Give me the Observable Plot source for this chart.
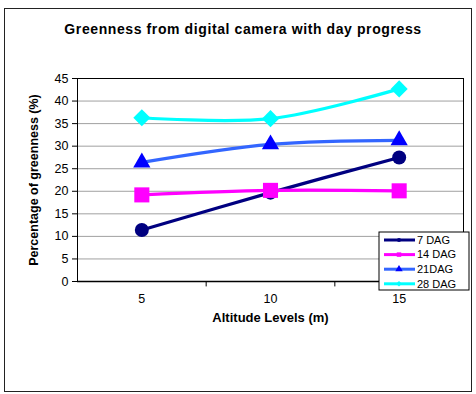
<!DOCTYPE html>
<html>
<head>
<meta charset="utf-8">
<script src="https://cdn.jsdelivr.net/npm/d3@7"></script>
<script src="https://cdn.jsdelivr.net/npm/@observablehq/plot@0.6"></script>
<style>
  body { margin: 0; background: #fff; font-family: "Liberation Sans", Arial, sans-serif; }
  #frame { position: absolute; left: 4px; top: 8px; width: 468px; height: 384px; border: 1.5px solid #222; box-sizing: border-box; }
  #title { position: absolute; left: 5px; top: 21px; width: 476px; text-align: center; font-weight: bold; font-size: 14px; letter-spacing: 0.6px; color: #000; }
  #chart { position: absolute; left: 0; top: 50px; }
</style>
</head>
<body>
<div id="frame"></div>
<div id="title">Greenness from digital camera with day progress</div>
<div id="chart"></div>
<script>
// Altitude levels (m) on the x axis
const altitudes = [5, 10, 15];
// Percentage of greenness for each day-after-germination series
const seriesNames = ["7 DAG", "14 DAG", "21DAG", "28 DAG"];
const dag7 = [11.4, 19.7, 27.5];
const dag14 = [19.2, 20.2, 20.1];
const dag21 = [26.4, 30.4, 31.3];
const dag28 = [36.3, 36.1, 42.7];
const yTicks = [0, 5, 10, 15, 20, 25, 30, 35, 40, 45];

const seriesValues = [dag7, dag14, dag21, dag28];
const lineColors = ["#000080", "#ff00ff", "#3366ff", "#00ffff"];
const markerColors = ["#000080", "#ff00ff", "#0000ff", "#00ffff"];
const symbols = ["circle", "square", "triangle", "diamond2"];
const markerR = [7, 8.5, 6.4, 7.7];

const rows = seriesNames.map((name, i) =>
  altitudes.map((a, j) => ({series: name, altitude: a, value: seriesValues[i][j]}))
);

const marks = [
  Plot.ruleY(yTicks.slice(1, -1), {stroke: "#a0a0a0", strokeWidth: 1}),
  // tick marks on the category axis, between altitude levels
  Plot.ruleX([7.5, 12.5], {y1: 0, y2: -1.2, stroke: "#000"}),
  ...rows.map((d, i) => Plot.line(d, {x: "altitude", y: "value", stroke: lineColors[i], strokeWidth: 3.2, curve: "catmull-rom"})),
  ...rows.map((d, i) => Plot.dot(d, {x: "altitude", y: "value", symbol: symbols[i], r: markerR[i], fill: markerColors[i], stroke: "none"})),
  Plot.frame({stroke: "#000"}),
  Plot.ruleY([0], {stroke: "#000", strokeWidth: 1.5}),
  Plot.text(["Percentage of greenness (%)"], {text: d => d, frameAnchor: "left", textAnchor: "middle", dx: -44, rotate: -90, fontWeight: "bold", fontSize: 12.5}),
  Plot.text(["Altitude Levels (m)"], {text: d => d, frameAnchor: "bottom", textAnchor: "middle", dy: 40, fontWeight: "bold", fontSize: 13, style: "letter-spacing: 0.6px"})
];

const svg = Plot.plot({
  width: 476,
  height: 300,
  marginLeft: 77,
  marginRight: 13,
  marginTop: 28,
  marginBottom: 69,
  style: {fontSize: "12.5px", fontFamily: "'Liberation Sans', Arial, sans-serif", color: "#000", background: "transparent", overflow: "visible"},
  x: {domain: [2.5, 17.5], ticks: altitudes, tickSize: 0, tickPadding: 13, label: null},
  y: {domain: [0, 45], ticks: yTicks, tickSize: 5, tickPadding: 4, label: null},
  marks
});
document.getElementById("chart").appendChild(svg);

// Legend box straddling the lower right corner of the plot area
const lg = d3.select(svg).append("g")
  .attr("font-size", 11)
  .attr("font-family", "'Liberation Sans', Arial, sans-serif")
  .attr("text-anchor", "start");
const lx = 379, ly = 182, lw = 90, lh = 58;
lg.append("rect").attr("x", lx).attr("y", ly).attr("width", lw).attr("height", lh)
  .attr("fill", "#fff").attr("stroke", "#000").attr("stroke-width", 1);
const legendSize = [14, 20, 24, 20];
seriesNames.forEach((name, i) => {
  const cy = ly + 8 + i * 14.6;
  lg.append("line").attr("x1", lx + 5).attr("x2", lx + 36).attr("y1", cy).attr("y2", cy)
    .attr("stroke", lineColors[i]).attr("stroke-width", 3);
  const sym = [d3.symbolCircle, d3.symbolSquare, d3.symbolTriangle, d3.symbolDiamond2][i];
  lg.append("path").attr("d", d3.symbol(sym, legendSize[i])()).attr("transform", `translate(${lx + 20},${cy})`)
    .attr("fill", markerColors[i]);
  lg.append("text").attr("x", lx + 38).attr("y", cy).attr("dy", "0.35em").attr("text-anchor", "start").text(name);
});
</script>
</body>
</html>
